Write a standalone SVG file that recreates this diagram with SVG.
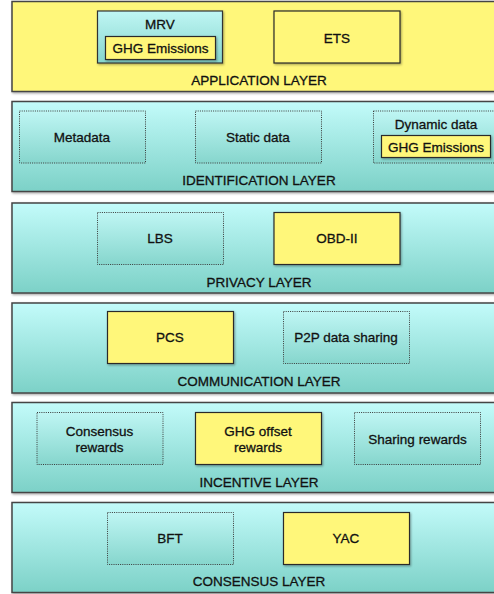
<svg xmlns="http://www.w3.org/2000/svg" width="494" height="594" viewBox="0 0 494 594">
<defs>
<linearGradient id="teal" x1="0" y1="0" x2="0" y2="1">
<stop offset="0" stop-color="#c3fbfa"/>
<stop offset="1" stop-color="#7cd1c7"/>
</linearGradient>
<linearGradient id="tealBox" x1="0" y1="0" x2="0" y2="1">
<stop offset="0" stop-color="#bff6f4"/>
<stop offset="1" stop-color="#86d6cd"/>
</linearGradient>
<filter id="sh" x="-10%" y="-10%" width="130%" height="140%">
<feDropShadow dx="1" dy="1.2" stdDeviation="0.8" flood-color="#000" flood-opacity="0.35"/>
</filter>
</defs>
<style>
.layer{stroke:#444;stroke-width:1.5;filter:url(#sh)}
.ly{fill:#fff77a}
.lt{fill:url(#teal)}
.yb{fill:#fff77a;stroke:#2a2a2a;stroke-width:1.2;filter:url(#sh)}
.tb{fill:url(#tealBox);stroke:#333;stroke-width:1.2;filter:url(#sh)}
.db{fill:url(#tealBox);stroke:#3a3a3a;stroke-width:1;stroke-dasharray:1 1.2}
text{font-family:"Liberation Sans",Arial,sans-serif;font-size:13.5px;fill:#111;stroke:#111;stroke-width:0.3;text-anchor:middle}
</style>
<rect width="494" height="594" fill="#ffffff"/>

<g id="application-layer">
<rect class="layer ly" x="12" y="1.5" width="496" height="90"/>
<text x="259" y="85">APPLICATION LAYER</text>
</g>
<g id="mrv">
<rect class="tb" x="97.5" y="11" width="125" height="52"/>
<text x="160" y="29">MRV</text>
</g>
<g id="mrv-ghg">
<rect class="yb" x="105.5" y="36.5" width="110" height="23"/>
<text x="160.5" y="53">GHG Emissions</text>
</g>
<g id="ets">
<rect class="yb" x="274" y="11" width="126" height="52"/>
<text x="337" y="43">ETS</text>
</g>

<g id="identification-layer">
<rect class="layer lt" x="12" y="101.5" width="496" height="90"/>
<text x="259" y="185">IDENTIFICATION LAYER</text>
</g>
<g id="metadata">
<rect class="db" x="19.5" y="111" width="126" height="52"/>
<text x="82" y="142">Metadata</text>
</g>
<g id="static-data">
<rect class="db" x="195.5" y="111" width="126" height="52"/>
<text x="258" y="142">Static data</text>
</g>
<g id="dynamic-data">
<rect class="db" x="373.5" y="111" width="130" height="52"/>
<text x="436" y="129">Dynamic data</text>
</g>
<g id="dynamic-ghg">
<rect class="yb" x="381.5" y="135.5" width="109" height="22"/>
<text x="436" y="151.5">GHG Emissions</text>
</g>

<g id="privacy-layer">
<rect class="layer lt" x="12" y="203" width="496" height="90"/>
<text x="259" y="286.5">PRIVACY LAYER</text>
</g>
<g id="lbs">
<rect class="db" x="97.5" y="212.5" width="126" height="52"/>
<text x="160" y="243">LBS</text>
</g>
<g id="obd-ii">
<rect class="yb" x="274" y="212.5" width="126" height="52"/>
<text x="337" y="243">OBD-II</text>
</g>

<g id="communication-layer">
<rect class="layer lt" x="12" y="303" width="496" height="90"/>
<text x="259" y="386">COMMUNICATION LAYER</text>
</g>
<g id="pcs">
<rect class="yb" x="107.5" y="311.5" width="126" height="52"/>
<text x="170" y="342">PCS</text>
</g>
<g id="p2p">
<rect class="db" x="283.5" y="311.5" width="126" height="52"/>
<text x="346" y="342">P2P data sharing</text>
</g>

<g id="incentive-layer">
<rect class="layer lt" x="12" y="402.5" width="496" height="90"/>
<text x="259" y="486.5">INCENTIVE LAYER</text>
</g>
<g id="consensus-rewards">
<rect class="db" x="37" y="412.5" width="126" height="52"/>
<text x="99.5" y="436">Consensus</text>
<text x="99.5" y="452">rewards</text>
</g>
<g id="ghg-offset-rewards">
<rect class="yb" x="195.5" y="412.5" width="126" height="52"/>
<text x="258" y="436">GHG offset</text>
<text x="258" y="452">rewards</text>
</g>
<g id="sharing-rewards">
<rect class="db" x="354.5" y="412.5" width="126" height="52"/>
<text x="417.5" y="444">Sharing rewards</text>
</g>

<g id="consensus-layer">
<rect class="layer lt" x="12" y="502.5" width="496" height="90"/>
<text x="259" y="586">CONSENSUS LAYER</text>
</g>
<g id="bft">
<rect class="db" x="107.5" y="512.5" width="126" height="52"/>
<text x="170" y="543">BFT</text>
</g>
<g id="yac">
<rect class="yb" x="283.5" y="512.5" width="126" height="52"/>
<text x="346" y="543">YAC</text>
</g>

<g id="connectors"/>
</svg>
